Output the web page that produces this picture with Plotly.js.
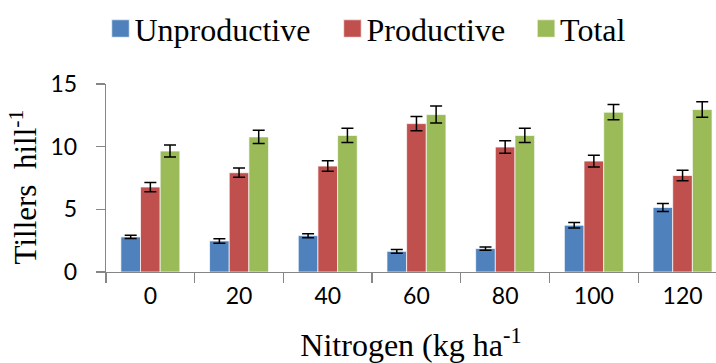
<!DOCTYPE html>
<html><head><meta charset="utf-8">
<script src="https://cdn.plot.ly/plotly-3.0.1.min.js"></script>
<style>html,body{margin:0;padding:0;background:#fff;}#chart{width:716px;height:363px;}</style>
</head><body><div id="chart"></div>
<script>
const categories = ["0","20","40","60","80","100","120"];
const unproductive = [2.8, 2.48, 2.9, 1.65, 1.87, 3.73, 5.15];
const unproductiveErr = [0.13, 0.18, 0.16, 0.15, 0.13, 0.21, 0.32];
const productive = [6.78, 7.92, 8.45, 11.84, 9.97, 8.85, 7.7];
const productiveErr = [0.37, 0.37, 0.42, 0.57, 0.5, 0.47, 0.41];
const total = [9.65, 10.78, 10.9, 12.56, 10.9, 12.75, 12.96];
const totalErr = [0.48, 0.52, 0.56, 0.68, 0.56, 0.61, 0.62];
const yTicks = [0, 5, 10, 15];

function series(name, y, err, color){
  return {type:'bar', name:name, x:categories, y:y,
    marker:{color:color, line:{color:'rgba(255,255,255,0.7)', width:1}},
    error_y:{type:'data', array:err, visible:true, color:'#000', thickness:1.5, width:6}};
}
const data = [
  series('Unproductive', unproductive, unproductiveErr, '#4F81BD'),
  series('Productive', productive, productiveErr, '#C0504D'),
  series('Total', total, totalErr, '#9BBB59')
];
const layout = {
  width:716, height:363,
  margin:{l:106, r:0, t:84, b:91},
  paper_bgcolor:'#fff', plot_bgcolor:'#fff',
  barmode:'group', bargap:0.335, bargroupgap:0,
  showlegend:true,
  legend:{orientation:'h', xref:'container', yref:'container', x:0.5, xanchor:'center', y:0.997, yanchor:'top',
    font:{family:'Liberation Serif', size:32, color:'#000'}, itemwidth:30, tracegroupgap:0},
  xaxis:{type:'category', range:[-0.5, 6.377], showline:true, linecolor:'#868686', linewidth:1.3,
    ticks:'outside', tickson:'boundaries', ticklen:10, tickcolor:'#868686', tickwidth:1.3, ticklabelstandoff:3,
    tickfont:{family:'Lato', size:23, color:'#000'}, showgrid:false, zeroline:false,
    title:{text:'Nitrogen (kg ha<sup>-1</sup>', font:{family:'Liberation Serif', size:32, color:'#000'}, standoff:34}},
  yaxis:{range:[0,15], tickvals:yTicks, showline:true, linecolor:'#868686', linewidth:1.3,
    ticks:'outside', ticklen:9, tickcolor:'#868686', tickwidth:1.3, ticklabelstandoff:14,
    tickfont:{family:'Lato', size:23, color:'#000'}, showgrid:false, zeroline:false},
  annotations:[{text:'Tillers  hill<sup>-1</sup>', textangle:-90, xref:'paper', yref:'paper',
    x:0, xanchor:'center', xshift:-83, y:0.45, yanchor:'middle', showarrow:false,
    font:{family:'Liberation Serif', size:31, color:'#000'}}]
};
Plotly.newPlot('chart', data, layout, {displayModeBar:false, staticPlot:true}).then(function(gd){
  // larger legend swatches, closer to their labels, as in the reference
  gd.querySelectorAll('.legend .legendpoints path').forEach(function(p){
    p.setAttribute('transform', 'translate(26,0) scale(1.5)');
  });
  gd.querySelectorAll('.legend .scrollbox, .legend').forEach(function(e){
    e.removeAttribute('clip-path');
  });
  const shifts = [-6, 5, 15];
  gd.querySelectorAll('.legend .traces').forEach(function(g, i){
    const t = g.getAttribute('transform') || '';
    const m = t.match(/translate\(\s*([-\d.e]+)[ ,]+([-\d.e]+)\s*\)/);
    if (m) g.setAttribute('transform', 'translate(' + (parseFloat(m[1]) + (shifts[i] || 0)) + ',' + m[2] + ')');
  });
});
</script></body></html>
